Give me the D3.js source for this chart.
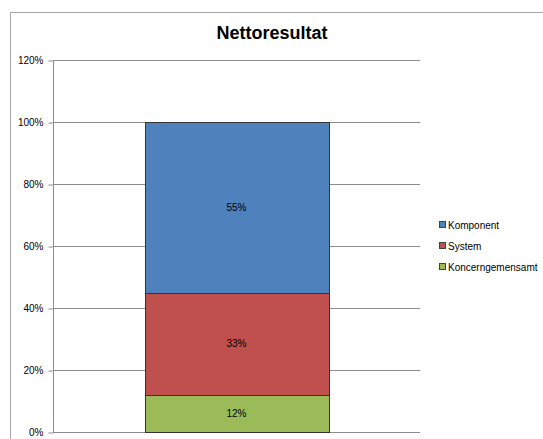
<!DOCTYPE html>
<html><head><meta charset="utf-8">
<script src="https://cdn.jsdelivr.net/npm/d3@7"></script>
<style>body{margin:0;background:#fff}svg{display:block}</style>
</head><body>
<script>
const categories = ["Nettoresultat"];
const seriesNames = ["Koncerngemensamt", "System", "Komponent"];
const seriesValues = [0.12, 0.33, 0.55];
const seriesColors = ["#9bbb59", "#c0504d", "#4f81bd"];
const tickValues = [0, 0.2, 0.4, 0.6, 0.8, 1.0, 1.2];
const legendOrder = ["Komponent", "System", "Koncerngemensamt"];

(function () {
const W = 543, H = 439;
const svg = d3.select("body").append("svg").attr("width", W).attr("height", H);

svg.append("rect").attr("x", 10.5).attr("y", 12.5).attr("width", W).attr("height", H)
  .attr("fill", "#fff").attr("stroke", "#a6a6a6");

const pL = 53, pR = 420, pT = 60, pB = 432;
const x = d3.scaleBand().domain(categories).range([pL, pR]).paddingInner(0.5).paddingOuter(0.25);
const y = d3.scaleLinear().domain([0, 1.2]).range([pB, pT]);

svg.append("text").attr("x", 272).attr("y", 39).attr("text-anchor", "middle")
  .attr("font-family", "Liberation Sans, Arial, sans-serif").attr("font-weight", "bold")
  .attr("font-size", 18).attr("fill", "#000").text("Nettoresultat");

// gridlines
svg.append("g").selectAll("line").data(tickValues).join("line")
  .attr("x1", pL).attr("x2", pR)
  .attr("y1", d => Math.round(y(d)) + 0.5).attr("y2", d => Math.round(y(d)) + 0.5)
  .attr("stroke", "#8c8c8c");

const yAxis = d3.axisLeft(y).tickValues(tickValues).tickFormat(d3.format(".0%")).tickSize(5).tickPadding(5);
const ga = svg.append("g").attr("transform", `translate(${pL + 0.5},0.5)`).call(yAxis);
ga.select(".domain").attr("stroke", "#8c8c8c").attr("d", `M0,${pT}V${pB}`);
ga.selectAll(".tick line").attr("stroke", "#8c8c8c");
ga.selectAll(".tick text").attr("font-family", "Liberation Sans, Arial, sans-serif").attr("font-size", 10).attr("fill", "#000");

// stacked bars
let cum = 0;
const segs = seriesValues.map((v, i) => { const s = {name: seriesNames[i], y0: cum, y1: cum + v, v, c: seriesColors[i]}; cum += v; return s; });
const bx = x(categories[0]), bw = x.bandwidth();
svg.append("g").selectAll("rect").data(segs).join("rect")
  .attr("x", Math.round(bx) + 0.5).attr("width", Math.round(bw))
  .attr("y", d => Math.round(y(d.y1)) + 0.5).attr("height", d => Math.round(y(d.y0)) - Math.round(y(d.y1)))
  .attr("fill", d => d.c).attr("stroke", "#333").attr("stroke-width", 1);
svg.append("g").selectAll("text").data(segs).join("text")
  .attr("x", bx + bw / 2).attr("y", d => (y(d.y0) + y(d.y1)) / 2 + 3.5)
  .attr("text-anchor", "middle").attr("font-family", "Liberation Sans, Arial, sans-serif")
  .attr("font-size", 10).attr("fill", "#000").text(d => d3.format(".0%")(d.v));

// legend
const lg = svg.append("g");
legendOrder.forEach((n, i) => {
  const idx = seriesNames.indexOf(n);
  const cy = 225 + i * 21;
  lg.append("rect").attr("x", 439.5).attr("y", cy - 3.5).attr("width", 6).attr("height", 6)
    .attr("fill", seriesColors[idx]).attr("stroke", "#444");
  lg.append("text").attr("x", 448).attr("y", cy + 3.5).attr("font-family", "Liberation Sans, Arial, sans-serif")
    .attr("font-size", 10).attr("fill", "#000").text(n);
});
})();
</script>
</body></html>
